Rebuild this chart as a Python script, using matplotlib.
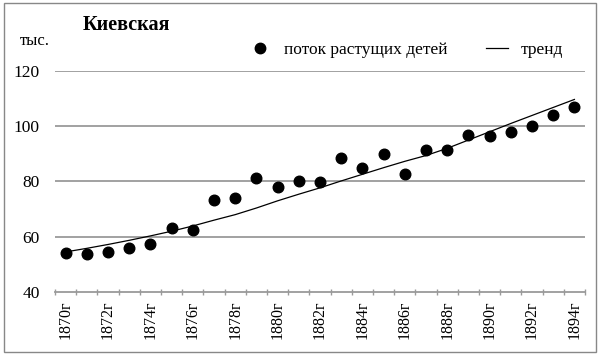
import matplotlib
matplotlib.use("Agg")
import matplotlib.pyplot as plt
from matplotlib.patches import Rectangle
from matplotlib.lines import Line2D

years = list(range(1870, 1895))
children = [54.2, 53.7, 54.5, 55.8, 57.3, 63.2, 62.5, 73.2, 74.1, 81.2,
            78.0, 80.3, 79.7, 88.5, 84.8, 89.9, 82.7, 91.3, 91.4, 97.0,
            96.3, 97.8, 100.0, 103.9, 107.1]
trend = [54.5, 55.8, 57.2, 58.7, 60.3, 62.0, 63.9, 66.0, 68.0, 70.4,
         73.0, 75.4, 77.7, 80.2, 82.6, 85.0, 87.3, 89.4, 92.0, 95.0,
         98.0, 101.0, 103.9, 106.8, 109.7]
tick_labels = [f"{y}г" for y in years]
y_ticks = [40, 60, 80, 100, 120]

title = "Киевская"
unit = "тыс."
legend_labels = ["поток растущих детей", "тренд"]

plt.rcParams['font.family'] = ['Liberation Serif', 'DejaVu Serif']

fig = plt.figure(figsize=(6.0, 3.58), dpi=100)
fig.patch.set_facecolor("white")
fig.add_artist(Rectangle((0.006, 0.017), 0.988, 0.975, transform=fig.transFigure,
                         fill=False, edgecolor="#888888", linewidth=1.0))

ax = fig.add_axes([0.0917, 0.1844, 0.8833, 0.6173])
x = list(range(len(years)))

for yv in y_ticks[1:]:
    ax.axhline(yv, color="#9a9a9a", linewidth=1.3, zorder=1)

ax.plot(x, trend, color="black", linewidth=0.9, zorder=2)
ax.scatter(x, children, s=58, color="black", zorder=3)

ax.set_xlim(-0.5, len(years) - 0.5)
ax.set_ylim(40, 120)
ax.set_yticks(y_ticks)
ax.set_yticklabels([str(v) for v in y_ticks], fontsize=12.5)

ax.set_xticks(x[::2])
ax.set_xticklabels(tick_labels[::2], rotation=90, fontsize=11.5)
ax.set_xticks([i - 0.5 for i in range(len(years) + 1)], minor=True)
ax.tick_params(axis="x", which="major", length=0, pad=6)
ax.tick_params(axis="x", which="minor", length=5, direction="inout", color="#9a9a9a", width=1.0)
ax.tick_params(axis="y", length=0, pad=11)

for s in ["left", "right", "top"]:
    ax.spines[s].set_visible(False)
ax.spines["bottom"].set_color("#9a9a9a")
ax.spines["bottom"].set_linewidth(1.3)

fig.text(0.137, 0.93, title, fontsize=14.5, fontweight="bold", ha="left", va="center")
fig.text(0.033, 0.885, unit, fontsize=12, ha="left", va="center")

handles = [Line2D([0], [0], marker="o", color="black", linestyle="none", markersize=7.5),
           Line2D([0], [0], color="black", linewidth=0.9)]
fig.legend(handles, legend_labels, loc="center left", bbox_to_anchor=(0.415, 0.860),
           bbox_transform=fig.transFigure, ncol=2, frameon=False, fontsize=12.5,
           handlelength=1.27, handletextpad=0.75, columnspacing=2.2,
           borderpad=0, borderaxespad=0)

fig.savefig("out.png", dpi=100, facecolor="white")
